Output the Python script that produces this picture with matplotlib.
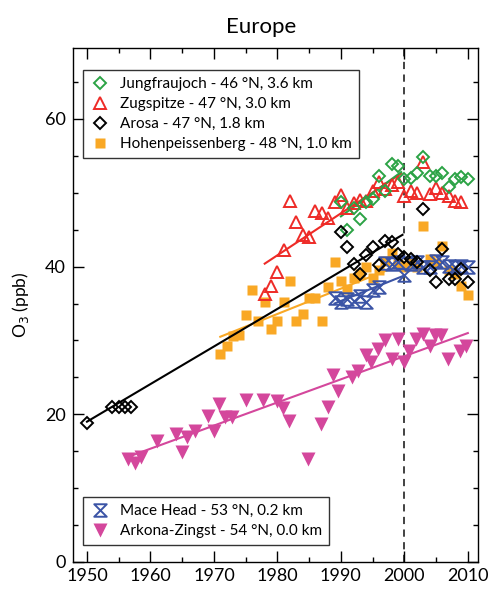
import matplotlib
matplotlib.use("Agg")
import matplotlib.pyplot as plt
from matplotlib.path import Path

plt.rcParams['font.family'] = ['Lato', 'DejaVu Sans']

# Jungfraujoch
jf_years = [1990, 1991, 1992, 1993, 1994, 1995, 1996, 1997, 1998, 1999, 2000,
            2001, 2002, 2003, 2004, 2005, 2006, 2007, 2008, 2009, 2010]
jf_o3 = [48.7, 44.9, 48.0, 46.4, 48.7, 49.1, 52.3, 50.3, 53.9, 53.6, 51.8,
         52.0, 52.7, 54.8, 52.3, 52.3, 52.7, 50.8, 51.8, 52.1, 51.8]

# Zugspitze
zs_years = [1978, 1979, 1980, 1981, 1982, 1983, 1984, 1985, 1986, 1987, 1988,
            1989, 1990, 1991, 1992, 1993, 1994, 1995, 1996, 1997, 1998, 1999,
            2000, 2001, 2002, 2003, 2004, 2005, 2006, 2007, 2008, 2009]
zs_o3 = [36.3, 37.4, 39.3, 42.2, 48.9, 46.0, 44.3, 44.0, 47.5, 47.2, 46.6,
         48.7, 49.7, 48.0, 48.6, 49.0, 48.9, 50.2, 51.4, 50.5, 51.0, 51.5,
         49.6, 50.2, 50.0, 54.2, 49.8, 50.7, 50.0, 49.5, 48.9, 48.7]

# Arosa
ar_years = [1950, 1954, 1955, 1956, 1957,
            1990, 1991, 1992, 1993, 1994, 1995, 1996, 1997, 1998, 1999, 2000,
            2001, 2002, 2003, 2004, 2005, 2006, 2007, 2008, 2009, 2010]
ar_o3 = [18.8, 21.0, 21.0, 21.0, 21.0,
         44.7, 42.6, 40.4, 39.0, 41.6, 42.7, 40.2, 43.5, 43.3, 41.7, 41.3,
         41.0, 40.6, 47.8, 39.5, 37.9, 42.4, 38.3, 38.3, 39.7, 37.9]

# Hohenpeissenberg
hp_years = [1971, 1972, 1973, 1974, 1975, 1976, 1977, 1978, 1979, 1980,
            1981, 1982, 1983, 1984, 1985, 1986, 1987, 1988, 1989, 1990,
            1991, 1992, 1993, 1994, 1995, 1996, 1997, 1998, 1999, 2000,
            2001, 2002, 2003, 2004, 2005, 2006, 2007, 2008, 2009, 2010]
hp_o3 = [28.2, 29.2, 30.6, 30.8, 33.4, 36.8, 32.7, 35.2, 31.5, 32.7,
         35.2, 38.0, 32.6, 33.6, 35.8, 35.8, 32.7, 37.2, 40.6, 38.1,
         37.0, 38.5, 39.0, 39.9, 38.5, 39.5, 40.8, 41.9, 40.4, 40.0,
         40.5, 40.0, 45.5, 41.0, 40.5, 42.8, 39.5, 39.0, 37.4, 36.1]

# Mace Head
mh_years = [1989, 1990, 1991, 1992, 1993, 1994, 1995, 1996, 1997, 1998, 1999,
            2000, 2001, 2002, 2003, 2004, 2005, 2006, 2007, 2008, 2009, 2010]
mh_o3 = [35.7, 35.2, 35.6, 35.4, 36.0, 35.2, 36.8, 37.3, 40.5, 40.4, 40.6,
         38.8, 40.3, 40.6, 40.0, 39.9, 40.8, 40.6, 40.1, 39.9, 40.1, 39.9]

# Arkona-Zingst
az_years = [1956.5, 1957.5, 1958.5, 1961, 1964, 1965, 1965.8, 1967, 1969, 1970,
            1970.8, 1971.8, 1972.9, 1975, 1977.8, 1979.9, 1980.9, 1981.8, 1984.8,
            1986.8, 1987.9, 1988.8, 1989.5, 1991.7, 1992.7, 1994, 1994.8, 1995.9,
            1996.9, 1998, 1999, 2000, 2000.8, 2001.9, 2002.9, 2004, 2004.8,
            2005.8, 2006.9, 2008.7, 2009.7]
az_o3 = [14.0, 13.4, 14.2, 16.4, 17.3, 14.9, 16.9, 17.8, 19.8, 17.8,
         21.4, 19.6, 19.6, 21.9, 21.9, 21.8, 20.8, 19.1, 14.0,
         18.7, 21.0, 25.3, 23.1, 25.0, 25.9, 28.0, 27.1, 28.9,
         30.0, 27.5, 30.2, 27.1, 28.6, 30.2, 30.9, 29.3, 30.7,
         30.7, 27.5, 28.6, 29.3]

# trend lines (start, end)
trend_jf = ([1990, 1999.5], [46.8, 52.8])
trend_zs = ([1978, 1999.5], [40.4, 52.6])
trend_ar = ([1950, 1999.7], [19.0, 44.3])
trend_hp = ([1971, 1999], [30.5, 40.1])
trend_mh = ([1989, 2000], [35.0, 38.8])
trend_az = ([1957, 2010], [14.4, 31.0])

green = '#2BA345'
red = '#EE2B27'
orange = '#F9A825'
blue = '#3B54A6'
magenta = '#D4479C'

hourglass = Path([(-1, 1), (1, 1), (-1, -1), (1, -1), (-1, 1)],
                 [Path.MOVETO, Path.LINETO, Path.LINETO, Path.LINETO, Path.CLOSEPOLY])

fig = plt.figure(figsize=(4.89, 5.9), dpi=100)
ax = fig.add_axes([0.1493, 0.0475, 0.8282, 0.8711])

ax.axvline(2000, color='#333333', ls=(0, (4, 3)), lw=1.3, zorder=1)

ax.plot(*trend_hp, color=orange, lw=1.5, zorder=2)
ax.plot(*trend_zs, color=red, lw=1.5, zorder=2)
ax.plot(*trend_jf, color=green, lw=1.5, zorder=2)
ax.plot(*trend_mh, color=blue, lw=1.5, zorder=2)
ax.plot(*trend_az, color=magenta, lw=1.5, zorder=2)

h_hp, = ax.plot(hp_years, hp_o3, 's', color=orange, ms=7.5, mec='none', zorder=3,
                label='Hohenpeissenberg - 48 °N, 1.0 km')
h_zs, = ax.plot(zs_years, zs_o3, '^', mfc='none', mec=red, ms=9, mew=1.4, zorder=4,
                label='Zugspitze - 47 °N, 3.0 km')
h_jf, = ax.plot(jf_years, jf_o3, 'D', mfc='none', mec=green, ms=6.5, mew=1.4, zorder=4,
                label='Jungfraujoch - 46 °N, 3.6 km')
h_mh, = ax.plot(mh_years, mh_o3, marker=hourglass, ls='none', mfc='none', mec=blue,
                ms=9, mew=1.4, zorder=4, label='Mace Head - 53 °N, 0.2 km')
h_az, = ax.plot(az_years, az_o3, 'v', color=magenta, ms=9.5, mec='none', zorder=3,
                label='Arkona-Zingst - 54 °N, 0.0 km')
ax.plot(*trend_ar, color='black', lw=1.5, zorder=5)
h_ar, = ax.plot(ar_years, ar_o3, 'D', mfc='none', mec='black', ms=6.5, mew=1.4, zorder=5,
                label='Arosa - 47 °N, 1.8 km')

ax.set_xlim(1947.8, 2011.6)
ax.set_ylim(0, 69.6)
ax.set_xticks(range(1950, 2011, 10))
ax.set_xticks(range(1955, 2011, 10), minor=True)
ax.set_yticks([0, 20, 40, 60])
ax.set_yticks([v for v in range(0, 70, 5) if v % 20 != 0], minor=True)
ax.tick_params(which='both', direction='in', top=True, right=True, labelsize=13)
ax.tick_params(which='major', length=8, width=1)
ax.tick_params(axis='x', which='major', pad=4)
ax.tick_params(axis='y', which='major', pad=5)
ax.tick_params(which='minor', length=3.5, width=1)
for s in ax.spines.values():
    s.set_linewidth(1)

ax.set_ylabel('O$_3$ (ppb)', fontsize=12.5, labelpad=10)
ax.set_title('Europe', fontsize=16, pad=11, x=0.465)

leg_kw = dict(fontsize=11, frameon=True, fancybox=False, edgecolor='black',
              handlelength=1.3, handletextpad=0.7, borderpad=0.45, labelspacing=0.4,
              borderaxespad=0)
leg1 = ax.legend(handles=[h_jf, h_zs, h_ar, h_hp], loc='upper left',
                 bbox_to_anchor=(0.024, 0.957), **leg_kw)
leg1.get_frame().set_linewidth(1)
ax.add_artist(leg1)
leg2 = ax.legend(handles=[h_mh, h_az], loc='lower left',
                 bbox_to_anchor=(0.024, 0.033), **leg_kw)
leg2.get_frame().set_linewidth(1)

fig.savefig('out.png', dpi=100)
